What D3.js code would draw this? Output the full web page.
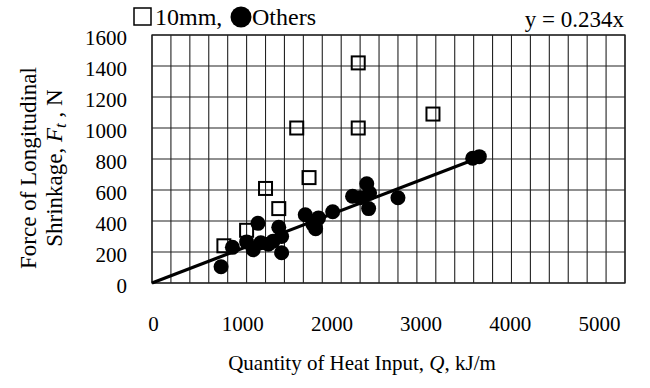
<!DOCTYPE html>
<html>
<head>
<meta charset="utf-8">
<script src="https://cdn.jsdelivr.net/npm/d3@7"></script>
<style>
  body { margin: 0; background: #fff; }
  svg text { font-family: "Liberation Serif", "Times New Roman", Times, "DejaVu Serif", serif !important; }
</style>
</head>
<body>
<div id="chart"></div>
<script>
// 10mm specimens (open squares): [Q kJ/m, Ft N]
const squaresQ = [760, 1000, 1200, 1340, 1660, 1530, 2180, 2180, 2970];
const squaresF = [240, 340, 610, 480, 680, 1000, 1420, 1000, 1090];

// Others (filled circles)
const othersQ = [730, 850, 1000, 1070, 1120, 1150, 1230, 1280, 1340, 1370, 1370,
  1620, 1700, 1730, 1760, 1910, 2120, 2200, 2270, 2300, 2290, 2600, 3390, 3460];
const othersF = [105, 230, 265, 215, 385, 260, 250, 270, 360, 300, 195,
  440, 380, 350, 420, 460, 560, 550, 640, 580, 480, 550, 805, 815];

const slope = 0.234;
const fitRange = [0, 3530];

const xTicks = [0, 1000, 2000, 3000, 4000, 5000];
const yTicks = [0, 200, 400, 600, 800, 1000, 1200, 1400, 1600];
const gridStep = 200;

const W = 650, H = 388;
const margin = { top: 35, right: 25, bottom: 105, left: 152 };
const width = W - margin.left - margin.right;
const height = H - margin.top - margin.bottom;

const svg = d3.select('#chart').append('svg')
  .attr('width', W)
  .attr('height', H);

const g = svg.append('g')
  .attr('transform', `translate(${margin.left},${margin.top})`);

const x = d3.scaleLinear().domain([0, 5000]).range([0, width]);
const y = d3.scaleLinear().domain([0, 1600]).range([height, 0]);
// tick labels in the source sit on a slightly narrower span than the grid
const xLabel = d3.scaleLinear().domain([0, 5000]).range([1, 447]);

// grid
g.append('g')
  .selectAll('line')
  .data(d3.range(0, 5000 + 1, gridStep))
  .enter().append('line')
  .attr('x1', d => x(d)).attr('x2', d => x(d))
  .attr('y1', 0).attr('y2', height)
  .attr('stroke', '#222').attr('stroke-width', 1.1);

g.append('g')
  .selectAll('line')
  .data(d3.range(0, 1600 + 1, gridStep))
  .enter().append('line')
  .attr('x1', 0).attr('x2', width)
  .attr('y1', d => y(d)).attr('y2', d => y(d))
  .attr('stroke', '#222').attr('stroke-width', 1.1);

g.append('rect')
  .attr('width', width).attr('height', height)
  .attr('fill', 'none').attr('stroke', '#222').attr('stroke-width', 1.3);

// axes labels (no tick marks)
const xAxis = g.append('g')
  .attr('transform', `translate(0,${height})`)
  .call(d3.axisBottom(xLabel).tickValues(xTicks).tickSize(0).tickPadding(33).tickFormat(d3.format('d')));
xAxis.select('.domain').remove();
xAxis.selectAll('text').attr('font-size', 21).attr('fill', '#000');

const yAxis = g.append('g')
  .call(d3.axisLeft(y).tickValues(yTicks).tickSize(0).tickPadding(25).tickFormat(d3.format('d')));
yAxis.select('.domain').remove();
yAxis.selectAll('text').attr('font-size', 21).attr('fill', '#000').attr('dy', '0.45em');

// fit line
g.append('line')
  .attr('x1', x(fitRange[0])).attr('y1', y(slope * fitRange[0]))
  .attr('x2', x(fitRange[1])).attr('y2', y(slope * fitRange[1]))
  .attr('stroke', '#000').attr('stroke-width', 3.2);

// others: filled circles
g.append('g')
  .selectAll('circle')
  .data(othersQ.map((q, i) => [q, othersF[i]]))
  .enter().append('circle')
  .attr('cx', d => x(d[0]))
  .attr('cy', d => y(d[1]))
  .attr('r', 7.5)
  .attr('fill', '#000');

// 10mm: open squares
const sq = 13;
g.append('g')
  .selectAll('rect')
  .data(squaresQ.map((q, i) => [q, squaresF[i]]))
  .enter().append('rect')
  .attr('x', d => x(d[0]) - sq / 2)
  .attr('y', d => y(d[1]) - sq / 2)
  .attr('width', sq).attr('height', sq)
  .attr('fill', 'none')
  .attr('stroke', '#000').attr('stroke-width', 2);

// legend
svg.append('rect')
  .attr('x', 134).attr('y', 8).attr('width', 17).attr('height', 17)
  .attr('fill', 'none').attr('stroke', '#000').attr('stroke-width', 1.5);
svg.append('text')
  .attr('x', 155).attr('y', 25)
  .attr('font-size', 24)
  .text('10mm,');
svg.append('circle')
  .attr('cx', 241).attr('cy', 17).attr('r', 10.5)
  .attr('fill', '#000');
svg.append('text')
  .attr('x', 252).attr('y', 25)
  .attr('font-size', 24)
  .text('Others');

svg.append('text')
  .attr('x', 624).attr('y', 27)
  .attr('text-anchor', 'end')
  .attr('font-size', 23)
  .text('y = 0.234x');

// x title
const xt = svg.append('text')
  .attr('x', 362).attr('y', 370)
  .attr('text-anchor', 'middle')
  .attr('font-size', 21);
xt.append('tspan').text('Quantity of Heat Input, ');
xt.append('tspan').attr('font-style', 'italic').text('Q');
xt.append('tspan').text(', kJ/m');

// y title (two lines)
svg.append('text')
  .attr('transform', 'translate(36,168) rotate(-90)')
  .attr('text-anchor', 'middle')
  .attr('font-size', 23)
  .text('Force of Longitudinal');

const yt = svg.append('text')
  .attr('transform', 'translate(62,168) rotate(-90)')
  .attr('text-anchor', 'middle')
  .attr('font-size', 23);
yt.append('tspan').text('Shrinkage, ');
yt.append('tspan').attr('font-style', 'italic').text('F');
yt.append('tspan').attr('font-style', 'italic').attr('font-size', 17).attr('dy', 4).text('t');
yt.append('tspan').attr('dy', -4).text(' , N');
</script>
</body>
</html>
